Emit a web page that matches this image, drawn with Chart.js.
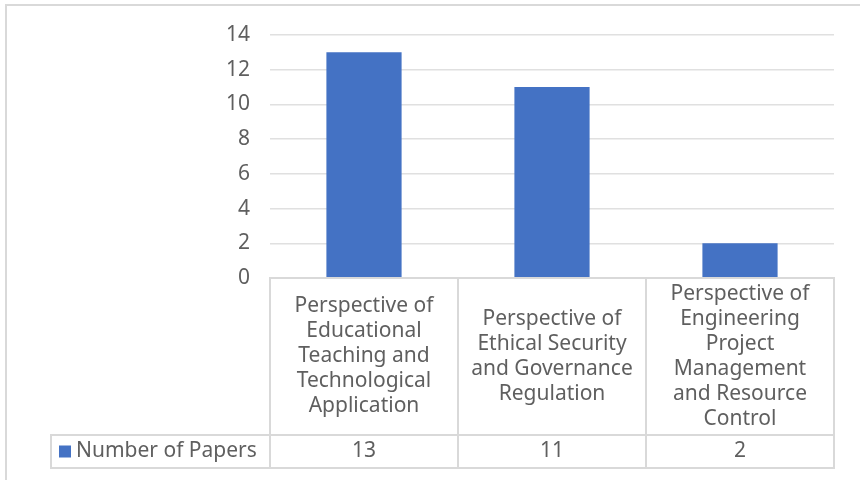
<!DOCTYPE html>
<html>
<head>
<meta charset="utf-8">
<script src="https://cdn.jsdelivr.net/npm/chart.js@4/dist/chart.umd.min.js"></script>
<style>
  html, body { margin: 0; padding: 0; background: #fff; }
  #wrap { width: 860px; height: 480px; }
</style>
</head>
<body>
<div id="wrap"><canvas id="papers-chart" width="860" height="480"></canvas></div>
<script>
const categories = [
    ["Perspective of", "Educational", "Teaching and", "Technological", "Application"],
    ["Perspective of", "Ethical Security", "and Governance", "Regulation"],
    ["Perspective of", "Engineering", "Project", "Management", "and Resource", "Control"]
];
const paper_counts = [13, 11, 2];
const series_label = "Number of Papers";
const y_max = 14;
const y_step = 2;

const text_color = "#5f5f5f";
const line_color = "#d9d9d9";
const bar_color = "#4472c4";
const font_family = "'Noto Sans', sans-serif";

// draws the data table under the plot, like excel does
const dataTablePlugin = {
    id: "dataTable",
    afterDraw(chart) {
        const ctx = chart.ctx;
        const area = chart.chartArea;
        const x = chart.scales.x;
        const n = categories.length;
        const colW = (area.right - area.left) / n;
        const labelBottom = area.bottom + 157;
        const tableBottom = area.bottom + 190;
        const keyLeft = 51;

        ctx.save();
        ctx.strokeStyle = line_color;
        ctx.lineWidth = 2;
        ctx.beginPath();
        // outer chart border
        ctx.moveTo(6, 480);
        ctx.lineTo(6, 5);
        ctx.lineTo(860, 5);
        // horizontal table lines
        ctx.moveTo(area.left, area.bottom);
        ctx.lineTo(area.right, area.bottom);
        ctx.moveTo(keyLeft, labelBottom);
        ctx.lineTo(area.right, labelBottom);
        ctx.moveTo(keyLeft, tableBottom);
        ctx.lineTo(area.right, tableBottom);
        // vertical table lines
        for (let i = 0; i <= n; i++) {
            const lx = Math.round(area.left + i * colW);
            ctx.moveTo(lx, area.bottom - 1);
            ctx.lineTo(lx, tableBottom + 1);
        }
        ctx.moveTo(keyLeft, labelBottom - 1);
        ctx.lineTo(keyLeft, tableBottom + 1);
        ctx.stroke();

        ctx.fillStyle = text_color;
        ctx.font = "21px " + font_family;
        ctx.textAlign = "center";
        ctx.textBaseline = "middle";
        const lineH = 25;
        const midLabel = (area.bottom + labelBottom) / 2;
        const midRow = (labelBottom + tableBottom) / 2;
        categories.forEach((lines, i) => {
            const cx = x.getPixelForValue(i);
            const startY = midLabel - (lines.length - 1) * lineH / 2;
            lines.forEach((t, j) => ctx.fillText(t, cx, startY + j * lineH));
            ctx.fillText(String(paper_counts[i]), cx, midRow);
        });

        // legend key + series name
        ctx.fillStyle = bar_color;
        ctx.fillRect(59, midRow - 6, 12, 12);
        ctx.fillStyle = text_color;
        ctx.textAlign = "left";
        ctx.fillText(series_label, 76, midRow);
        ctx.restore();
    }
};

new Chart(document.getElementById("papers-chart"), {
    type: "bar",
    data: {
        labels: categories.map(c => c.join(" ")),
        datasets: [{
            label: series_label,
            data: paper_counts,
            backgroundColor: bar_color,
            barPercentage: 0.4,
            categoryPercentage: 1.0
        }]
    },
    options: {
        responsive: false,
        animation: false,
        layout: {
            padding: { left: 0, right: 26, top: 35, bottom: 12 }
        },
        scales: {
            x: {
                grid: { display: false },
                border: { display: false },
                ticks: { display: false },
                afterFit: s => { s.height = 190; }
            },
            y: {
                min: 0,
                max: y_max,
                ticks: {
                    stepSize: y_step,
                    padding: 20,
                    color: text_color,
                    font: { size: 21, family: font_family }
                },
                grid: { color: "#e0e0e0", lineWidth: 1.5, drawTicks: false },
                border: { display: false },
                afterFit: s => { s.width = 270; }
            }
        },
        plugins: {
            legend: { display: false },
            tooltip: { enabled: false }
        }
    },
    plugins: [dataTablePlugin]
});
</script>
</body>
</html>
